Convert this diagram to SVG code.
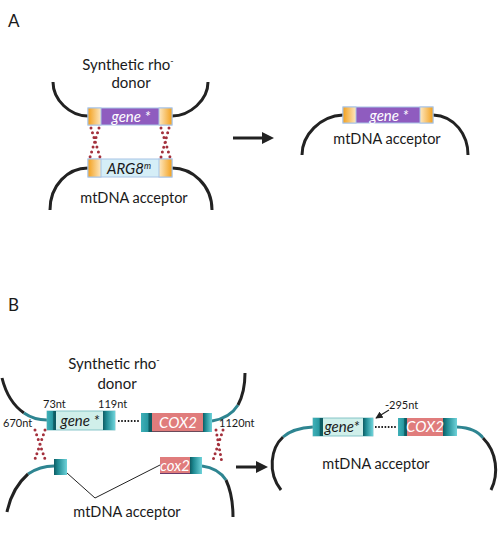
<svg xmlns="http://www.w3.org/2000/svg" width="500" height="533" viewBox="0 0 500 533">
<defs>
<linearGradient id="orL" x1="0" y1="0" x2="1" y2="0"><stop offset="0" stop-color="#f3a01c"/><stop offset="1" stop-color="#fde8c2"/></linearGradient>
<linearGradient id="orR" x1="0" y1="0" x2="1" y2="0"><stop offset="0" stop-color="#fde8c2"/><stop offset="1" stop-color="#f3a01c"/></linearGradient>
<linearGradient id="tL" x1="0" y1="0" x2="1" y2="0"><stop offset="0" stop-color="#3fb0b8"/><stop offset="0.6" stop-color="#2a9aa2"/><stop offset="0.75" stop-color="#0e5c63"/><stop offset="1" stop-color="#0e5c63"/></linearGradient>
<linearGradient id="tR" x1="0" y1="0" x2="1" y2="0"><stop offset="0" stop-color="#0e5c63"/><stop offset="0.3" stop-color="#1f8a92"/><stop offset="1" stop-color="#6fd3da"/></linearGradient>
<marker id="ah" viewBox="0 0 10 10" refX="9" refY="5" markerWidth="6" markerHeight="6" orient="auto"><path d="M0,0 L10,5 L0,10 z" fill="#222"/></marker>
</defs>
<style>
.t{font-family:Lato,"Open Sans","Liberation Sans",sans-serif;fill:#1a1a1a}
.lab{font-size:17px}
.big{font-size:15px}
.mid{font-size:14.5px}
.sm{font-size:11px}
.gi{font-style:italic;font-size:15px}
.arc{fill:none;stroke:#222;stroke-width:3}
.tarc{fill:none;stroke:#2e8591;stroke-width:3}
.dots{stroke:#a3303c;stroke-width:3;stroke-linecap:round;stroke-dasharray:0 5;fill:none}
.bd{stroke:#a8c4e6;stroke-width:1}
.thin{stroke:#222;stroke-width:1;fill:none}
</style>

<text class="t lab" x="8" y="27">A</text>
<text class="t lab" x="8" y="311">B</text>

<g id="A-donor">
<path class="arc" d="M53,82 C53,100 70,116 88,116"/>
<path class="arc" d="M172,116 C190,116 208,100 208,82"/>
<rect x="88" y="108" width="84" height="17" fill="#8f5cbf" class="bd"/>
<rect x="88" y="108" width="13" height="17" fill="url(#orL)" class="bd"/>
<rect x="159" y="108" width="13" height="17" fill="url(#orR)" class="bd"/>
<text class="t gi" x="131" y="121.5" text-anchor="middle" style="fill:#fff">gene *</text>
<text class="t big" x="128" y="70" text-anchor="middle">Synthetic rho<tspan font-size="9" dy="-6">-</tspan></text>
<text class="t big" x="131" y="88" text-anchor="middle">donor</text>
</g>

<g id="A-acceptor">
<path class="arc" d="M88,168 C68,168 50,185 50,210"/>
<path class="arc" d="M172,168 C192,168 212,185 212,210"/>
<rect x="88" y="159" width="84" height="18" fill="#d5eef7" class="bd"/>
<rect x="88" y="159" width="13" height="18" fill="url(#orL)" class="bd"/>
<rect x="159" y="159" width="13" height="18" fill="url(#orR)" class="bd"/>
<text class="t gi" x="129" y="173.5" text-anchor="middle">ARG8<tspan font-size="9" dy="-5">m</tspan></text>
<text class="t mid" x="134" y="203" text-anchor="middle">mtDNA acceptor</text>
</g>

<g id="A-result">
<path class="arc" d="M343,115 C320,116 302,135 302,155"/>
<path class="arc" d="M433,115 C455,116 468,135 468,155"/>
<rect x="343" y="107" width="90" height="16" fill="#8f5cbf" class="bd"/>
<rect x="343" y="107" width="13" height="16" fill="url(#orL)" class="bd"/>
<rect x="420" y="107" width="13" height="16" fill="url(#orR)" class="bd"/>
<text class="t gi" x="389" y="120.5" text-anchor="middle" style="fill:#fff">gene *</text>
<text class="t mid" x="387" y="144" text-anchor="middle">mtDNA acceptor</text>
</g>

<g id="B-donor">
<path class="arc" d="M2,378 Q8,402 24,413"/>
<path class="tarc" d="M24,413 Q34,420 47,420"/>
<path class="tarc" d="M212,421 Q230,418 238,405"/>
<path class="arc" d="M238,405 Q245,392 245,373"/>
<rect x="47" y="411" width="68" height="19" fill="#d0efea" stroke="#6fb9bd" stroke-width="0.8"/>
<rect x="47" y="411" width="9" height="19" fill="url(#tL)"/>
<rect x="103" y="411" width="12" height="19" fill="url(#tR)"/>
<text class="t gi" x="80" y="426" text-anchor="middle">gene *</text>
<line x1="118" y1="421" x2="140" y2="421" stroke="#222" stroke-width="2" stroke-dasharray="1.6 1.6"/>
<rect x="141" y="413" width="71" height="19" fill="#e07c7c"/>
<line x1="152" y1="431.5" x2="203" y2="431.5" stroke="#6a4a5a" stroke-width="1"/>
<rect x="141" y="413" width="11" height="19" fill="url(#tL)"/>
<rect x="203" y="413" width="9" height="19" fill="url(#tR)"/>
<text class="t gi" x="178" y="428" text-anchor="middle" style="fill:#fff">COX2</text>
<text class="t sm" x="43" y="408">73nt</text>
<text class="t sm" x="98" y="408">119nt</text>
<text class="t sm" x="3" y="427">670nt</text>
<text class="t sm" x="219" y="427">1120nt</text>
<text class="t big" x="114" y="369" text-anchor="middle">Synthetic rho<tspan font-size="9" dy="-6">-</tspan></text>
<text class="t big" x="117" y="389" text-anchor="middle">donor</text>
</g>

<g id="B-acceptor">
<path class="tarc" d="M54,466 Q40,466 28,474"/>
<path class="arc" d="M28,474 Q12,488 7,512"/>
<path class="tarc" d="M202,466 Q218,468 226,480"/>
<path class="arc" d="M226,480 Q233,495 233,517"/>
<rect x="54" y="459" width="13" height="16" fill="url(#tR)"/>
<rect x="160" y="457" width="30" height="17" fill="#e07c7c"/>
<line x1="160" y1="473.5" x2="190" y2="473.5" stroke="#6a3a6a" stroke-width="1"/>
<rect x="190" y="457" width="12" height="17" fill="url(#tR)"/>
<text class="t gi" x="175" y="471" text-anchor="middle" style="fill:#fff">cox2</text>
<polyline class="thin" points="67,473 95,498 160,465"/>
<text class="t mid" x="127" y="517" text-anchor="middle">mtDNA acceptor</text>
</g>

<g id="B-result">
<path class="tarc" d="M313,427 Q293,428 283,437"/>
<path class="arc" d="M283,437 C271,448 267,472 281,490"/>
<path class="tarc" d="M457,427 Q476,428 483,438"/>
<path class="arc" d="M483,438 C497,452 499,474 491,490"/>
<rect x="313" y="418" width="60" height="18" fill="#d0efea" stroke="#6fb9bd" stroke-width="0.8"/>
<rect x="313" y="418" width="10" height="18" fill="url(#tL)"/>
<rect x="363" y="418" width="10" height="18" fill="url(#tR)"/>
<text class="t gi" x="342" y="432" text-anchor="middle">gene*</text>
<line x1="375" y1="427" x2="397" y2="427" stroke="#222" stroke-width="2" stroke-dasharray="1.6 1.6"/>
<rect x="398" y="418" width="59" height="18" fill="#e07c7c"/>
<rect x="398" y="418" width="9" height="18" fill="url(#tL)"/>
<rect x="443" y="418" width="14" height="18" fill="url(#tR)"/>
<text class="t gi" x="425" y="432" text-anchor="middle" style="fill:#fff">COX2</text>
<text class="t sm" x="385" y="409">-295nt</text>
<line x1="389" y1="410" x2="376" y2="418" stroke="#222" stroke-width="1.2" marker-end="url(#ah)"/>
<text class="t mid" x="376" y="469" text-anchor="middle">mtDNA acceptor</text>
</g>

<g id="connectors">
<path class="dots" d="M91,128 L100,157 M99,128 L90,157"/>
<path class="dots" d="M161,128 L170,157 M169,128 L161,157"/>
<path class="dots" d="M35,430 L46,462 M45,430 L34,462"/>
<path class="dots" d="M216,430 L222,463 M223,430 L212,463"/>
<line x1="233" y1="138" x2="263" y2="138" stroke="#222" stroke-width="3"/>
<polygon points="262,132 274,138 262,144" fill="#222"/>
<line x1="236" y1="467" x2="257" y2="467" stroke="#222" stroke-width="3"/>
<polygon points="256,461 268,467 256,473" fill="#222"/>
</g>
</svg>
